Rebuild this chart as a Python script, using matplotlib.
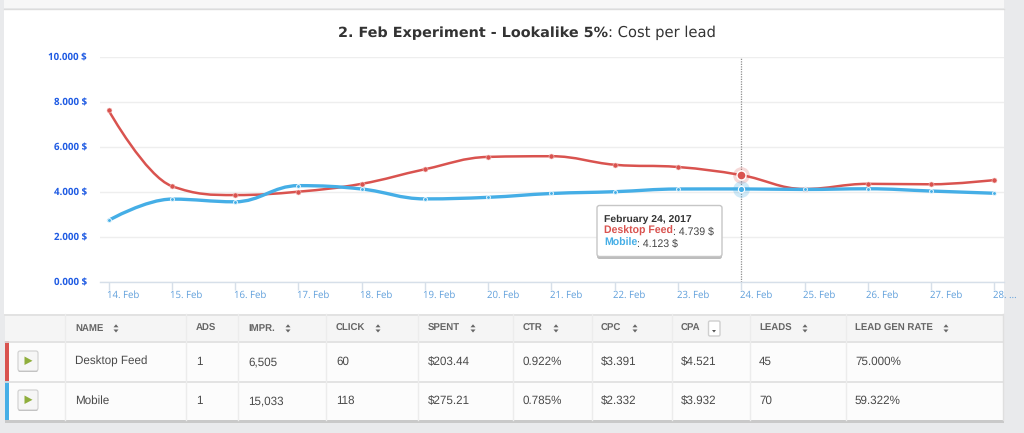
import matplotlib
matplotlib.use('Agg')
import matplotlib.pyplot as plt
from matplotlib.path import Path
from matplotlib.patches import PathPatch, Rectangle, FancyBboxPatch, Polygon
from matplotlib.transforms import ScaledTranslation

plt.rcParams['text.hinting'] = 'none'
plt.rcParams['text.hinting_factor'] = 8

days = [14, 15, 16, 17, 18, 19, 20, 21, 22, 23, 24, 25, 26, 27, 28]
day_labels = ['14. Feb', '15. Feb', '16. Feb', '17. Feb', '18. Feb', '19. Feb', '20. Feb', '21. Feb',
              '22. Feb', '23. Feb', '24. Feb', '25. Feb', '26. Feb', '27. Feb', '28. ...']
desktop = [7.63, 4.25, 3.85, 4.00, 4.35, 5.00, 5.55, 5.58, 5.20, 5.10, 4.739, 4.12, 4.35, 4.33, 4.52]
mobile = [2.72, 3.67, 3.55, 4.27, 4.12, 3.68, 3.75, 3.92, 4.00, 4.12, 4.123, 4.10, 4.13, 4.03, 3.93]
yticks = [0, 2, 4, 6, 8, 10]
ytick_labels = ['0.000 $', '2.000 $', '4.000 $', '6.000 $', '8.000 $', '10.000 $']
headers = ['NAME', 'ADS', 'IMPR.', 'CLICK', 'SPENT', 'CTR', 'CPC', 'CPA', 'LEADS', 'LEAD GEN RATE']
row_desktop = ['Desktop Feed', '1', '6,505', '60', '$203.44', '0.922%', '$3.391', '$4.521', '45', '75.000%']
row_mobile = ['Mobile', '1', '15,033', '118', '$275.21', '0.785%', '$2.332', '$3.932', '70', '59.322%']

RED, BLUE = '#d9534f', '#45aee6'
W, H = 1024, 433
SANS = 'Liberation Sans'

fig = plt.figure(figsize=(W / 100, H / 100), dpi=100, facecolor='#e9eaec')

# page layer in pixel coordinates
bg = fig.add_axes([0, 0, 1, 1], zorder=0)
bg.set_xlim(0, W); bg.set_ylim(H, 0); bg.axis('off')
bg.add_patch(Rectangle((4, 9), 1000, 305, fc='white', ec='none'))
bg.add_patch(Rectangle((4, 0), 1000, 8, fc='#f7f7f7', ec='none'))
bg.plot([4, 1004], [8.5, 8.5], color='#dcdcdc', lw=1)

# title
bg.text(608, 37, '2. Feb Experiment - Lookalike 5%', ha='right', va='baseline',
        fontsize=10.4, fontweight='bold', color='#333333', family='DejaVu Sans')
bg.text(608, 37, ': Cost per lead', ha='left', va='baseline',
        fontsize=10.6, color='#333333', family='DejaVu Sans')

# table
TL, TR, T0, T1, T2, T3 = 5, 1003, 314, 341, 381, 420
bg.add_patch(Rectangle((TL, T3), TR - TL + 1, 3, fc='#c9c9c9', ec='none'))
bg.add_patch(Rectangle((TL, T0), TR - TL, T1 - T0, fc='#f5f5f5', ec='none'))
bg.add_patch(Rectangle((TL, T1), TR - TL, T3 - T1, fc='#fcfcfc', ec='none'))
for y in (T0, T1, T2):
    bg.plot([TL, TR], [y + .5, y + .5], color='#dfdfdf', lw=1.2)
bg.plot([TR, TR], [T0, T3], color='#dfdfdf', lw=1)
seps = [65, 186, 238, 326, 418, 513, 592, 672, 750, 846]
xtext = [75, 196, 248, 336, 428, 523, 601, 681, 759, 855]
sort_x = [116, None, 288, 378, 473, 556, 635, None, 805, 946]
for s in seps:
    bg.plot([s, s], [T0, T3], color='#ececec', lw=1)
bg.add_patch(Rectangle((5, T1), 3.5, T2 - T1, fc=RED, ec='none'))
bg.add_patch(Rectangle((5, T2), 3.5, T3 - T2, fc=BLUE, ec='none'))

for x, h, sx in zip(xtext, headers, sort_x):
    bg.text(x, 331, h, ha='left', va='baseline', fontsize=6.9, fontweight='bold', color='#666666', family=SANS)
    if sx is not None:
        bg.add_patch(Polygon([[sx - 2.5, 327.3], [sx + 2.5, 327.3], [sx, 324.3]], fc='#666666', ec='none'))
        bg.add_patch(Polygon([[sx - 2.5, 329.5], [sx + 2.5, 329.5], [sx, 332.5]], fc='#666666', ec='none'))
bg.add_patch(FancyBboxPatch((708.5, 321), 11.5, 15, boxstyle='round,pad=0,rounding_size=1.5', fc='white', ec='#cfcfcf', lw=1))
bg.add_patch(Polygon([[712, 330], [716, 330], [714, 332.5]], fc='#555555', ec='none'))

for row, yc in ((row_desktop, 361), (row_mobile, 400)):
    for x, v in zip(xtext, row):
        bg.text(x, yc + 4, v, ha='left', va='baseline', fontsize=8.4, color='#4a4a4a', family=SANS)
    bg.add_patch(FancyBboxPatch((18, yc - 9), 20, 20, boxstyle='round,pad=0,rounding_size=2',
                                fc='#b5b5b5', ec='none'))
    bg.add_patch(FancyBboxPatch((18, yc - 10), 20, 20, boxstyle='round,pad=0,rounding_size=2',
                                fc='#f6f6f6', ec='#cfcfcf', lw=0.8))
    bg.add_patch(Polygon([[24.5, yc - 4.5], [24.5, yc + 4], [32.5, yc - 0.2]], fc='#8fae3c', ec='none'))

# chart axes: pixel box x 100..1004, y 57..281.5
AL, AR, AT, AB = 100, 1004, 57, 281.5
ax = fig.add_axes([AL / W, 1 - AB / H, (AR - AL) / W, (AB - AT) / H], zorder=1, facecolor='none')
PX = 63.28
ax.set_xlim(14 - (108.5 - AL) / PX, 14 + (AR - 108.5) / PX)
ax.set_ylim(0, 10)
for s in ('top', 'right', 'left'):
    ax.spines[s].set_visible(False)
ax.spines['bottom'].set_color('#d6dfe9')
ax.spines['bottom'].set_linewidth(1)
ax.set_yticks(yticks)
ax.set_yticklabels(ytick_labels)
ax.tick_params(axis='y', length=0, pad=9.4, labelcolor='#1f5be3', labelsize=7.0)
for t in ax.get_yticklabels():
    t.set_fontweight('bold'); t.set_family('Open Sans')
ax.set_xticks(days)
ax.set_xticklabels(day_labels, ha='left')
ax.tick_params(axis='x', length=5.5, width=1, color='#d6dfe9', pad=1.0, labelcolor='#5f9fdb', labelsize=6.9)
shift = ScaledTranslation(-1.5 / 100, 0, fig.dpi_scale_trans)
for t in ax.get_xticklabels():
    t.set_family('Open Sans')
    t.set_transform(t.get_transform() + shift)
ax.grid(axis='y', color='#eeeeee', lw=1)
ax.set_axisbelow(True)


def spline(xs, ys, smoothing=1.5):
    """Highcharts-style smooth path through the data points, with overshoot clamping."""
    verts, codes = [(xs[0], ys[0])], [Path.MOVETO]
    n = len(xs)
    ctrl = []
    for i in range(1, n - 1):
        lx = (smoothing * xs[i] + xs[i - 1]) / (smoothing + 1)
        ly = (smoothing * ys[i] + ys[i - 1]) / (smoothing + 1)
        rx = (smoothing * xs[i] + xs[i + 1]) / (smoothing + 1)
        ry = (smoothing * ys[i] + ys[i + 1]) / (smoothing + 1)
        c = (ry - ly) / (rx - lx) * (xs[i] - lx) + ly - ys[i]
        ly -= c
        ry -= c
        prev_y, y, next_y = ys[i - 1], ys[i], ys[i + 1]
        if ly > prev_y and ly > y:
            ly = max(prev_y, y); ry = 2 * y - ly
        elif ly < prev_y and ly < y:
            ly = min(prev_y, y); ry = 2 * y - ly
        if ry > next_y and ry > y:
            ry = max(next_y, y); ly = 2 * y - ry
        elif ry < next_y and ry < y:
            ry = min(next_y, y); ly = 2 * y - ry
        ctrl.append(((lx, ly), (rx, ry)))
    for i in range(1, n):
        cs = (xs[i - 1], ys[i - 1]) if i == 1 else ctrl[i - 2][1]
        ce = (xs[i], ys[i]) if i == n - 1 else ctrl[i - 1][0]
        verts += [cs, ce, (xs[i], ys[i])]
        codes += [Path.CURVE4] * 3
    return Path(verts, codes)


ax.add_patch(PathPatch(spline(days, desktop), fc='none', ec=RED, lw=1.8, zorder=3, capstyle='round'))
ax.plot(days, desktop, ls='none', marker='o', ms=3.6, mfc=RED, mec='#f4c8c6', mew=0.4, zorder=4)
ax.add_patch(PathPatch(spline(days, mobile), fc='none', ec=BLUE, lw=2.4, zorder=5, capstyle='round'))
ax.plot(days, mobile, ls='none', marker='o', ms=2.8, mfc=BLUE, mec='#eaf7fe', mew=0.7, zorder=6)

# hover state at 24 Feb
hi = days.index(24)
ax.axvline(24, ymin=0, ymax=1.0, color='#8f8f8f', lw=0.9, ls=(0, (1, 1)), zorder=2)
ax.plot([24], [desktop[hi]], 'o', ms=12, mfc=RED, mec='none', alpha=.22, zorder=7)
ax.plot([24], [desktop[hi]], 'o', ms=6.5, mfc=RED, mec='white', mew=1, zorder=8)
ax.plot([24], [mobile[hi]], 'o', ms=12, mfc=BLUE, mec='none', alpha=.25, zorder=7)
ax.plot([24], [mobile[hi]], 'o', ms=4.5, mfc=BLUE, mec='white', mew=0.8, zorder=8)

# tooltip (pixel layer on top)
top = fig.add_axes([0, 0, 1, 1], zorder=2, facecolor='none')
top.set_xlim(0, W); top.set_ylim(H, 0); top.axis('off')
top.add_patch(FancyBboxPatch((597, 208), 125, 51, boxstyle='round,pad=0,rounding_size=2.5', fc='#bdbdbd', ec='none'))
top.add_patch(FancyBboxPatch((597, 205.5), 125, 51, boxstyle='round,pad=0,rounding_size=2.5', fc='white', ec='#c6c6c6', lw=1))
top.text(604, 221.5, 'February 24, 2017', fontsize=7.5, fontweight='bold', color='#333333', va='baseline', family=SANS)
top.text(604, 234, 'Desktop Feed', fontsize=7.6, fontweight='bold', color=RED, va='baseline', family=SANS)
top.text(672.7, 234, ': 4.739 $', fontsize=7.6, color='#444444', va='baseline', family=SANS)
top.text(604, 246, 'Mobile', fontsize=7.6, fontweight='bold', color=BLUE, va='baseline', family=SANS)
top.text(637, 246, ': 4.123 $', fontsize=7.6, color='#444444', va='baseline', family=SANS)

fig.savefig('out.png', dpi=100, facecolor=fig.get_facecolor())
